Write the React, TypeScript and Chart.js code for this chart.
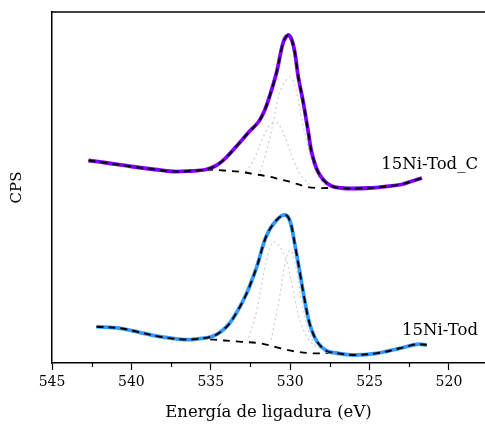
import React, { useEffect, useRef } from "react";
import { Chart, registerables } from "chart.js";

Chart.register(...registerables);

// O 1s region, binding energy (eV) vs counts, two samples stacked vertically.
// Each array holds [binding energy, CPS] pairs.

// 15Ni-Tod_C: measured spectrum and its fitted envelope
const topSpectrum: [number, number][] = [
  [542.7, 202.5], [541.5, 200], [540.0, 196.5], [538.5, 193.5], [537.4, 191.5],
  [536.3, 192], [535.3, 193.5], [534.6, 198], [534.0, 206], [533.2, 220],
  [532.6, 231], [532.0, 241], [531.6, 253], [531.27, 268], [530.85, 291],
  [530.43, 321], [530.12, 328], [529.9, 323], [529.7, 310], [529.5, 287],
  [529.17, 260], [528.85, 230], [528.65, 211], [528.3, 193], [527.9, 183],
  [527.4, 177], [526.8, 175], [526.0, 174.5], [525.0, 175], [524.0, 176.5],
  [523.0, 178.5], [522.3, 182], [521.7, 185],
];
const topBaseline: [number, number][] = [
  [535.3, 193.5], [534.2, 192.5], [533.2, 191.3], [532.3, 189], [531.3, 186.3],
  [530.6, 183.5], [530.0, 181.3], [529.0, 176.3], [528.3, 175], [527.1, 175.2],
];
const topComponentA: [number, number][] = [
  [531.9, 191], [531.5, 211], [531.06, 241], [530.6, 273], [530.0, 286],
  [529.6, 271], [529.2, 238], [528.55, 198], [528.0, 181], [527.6, 176],
];
const topComponentB: [number, number][] = [
  [532.8, 191], [532.3, 203], [531.7, 226], [531.2, 239], [530.8, 240],
  [530.3, 225], [529.8, 203], [529.3, 187], [528.8, 179],
];

// 15Ni-Tod: measured spectrum and its fitted envelope
const bottomSpectrum: [number, number][] = [
  [542.2, 36.3], [540.7, 34.7], [539.5, 30.7], [538.2, 26.3], [536.9, 23.7],
  [536.1, 23.7], [534.84, 27], [534.0, 36.3], [533.4, 49.7], [532.74, 69.7],
  [532.1, 96.3], [531.5, 127], [530.85, 143], [530.3, 148], [530.0, 141.3],
  [529.7, 118], [529.4, 91.3], [529.07, 61.3], [528.75, 38], [528.3, 21.3],
  [527.7, 12], [527.1, 10], [526.0, 8], [524.55, 9.7], [523.1, 14.7],
  [522.0, 18.7], [521.4, 18],
];
const bottomBaseline: [number, number][] = [
  [535.05, 23.7], [533.2, 21.3], [531.9, 19.7], [530.6, 14.7], [529.6, 11.3],
  [528.55, 9.7], [527.3, 10.3],
];
const bottomComponentA: [number, number][] = [
  [531.2, 23], [530.7, 63], [530.3, 101], [530.0, 113], [529.7, 101],
  [529.3, 63], [528.9, 35], [528.5, 20], [528.0, 13],
];
const bottomComponentB: [number, number][] = [
  [532.6, 25], [532.1, 53], [531.6, 95], [531.1, 121], [530.6, 115],
  [530.2, 101], [529.8, 71], [529.4, 43], [528.9, 25], [528.4, 16],
];

const sampleLabels = ["15Ni-Tod_C", "15Ni-Tod"];
const xTickValues = [545, 540, 535, 530, 525, 520];

const FONT = "'DejaVu Serif', 'Liberation Serif', serif";
const PURPLE = "#7f00ff";
const BLUE = "#3399ff";

const toPoints = (arr: [number, number][]) => arr.map(([x, y]) => ({ x, y }));

const spectrumSet = (arr: [number, number][], color: string) => ({
  data: toPoints(arr),
  borderColor: color,
  borderWidth: 3.8,
  pointRadius: 0,
  showLine: true,
  tension: 0.35,
  order: 1,
});
const fitSet = (arr: [number, number][]) => ({
  data: toPoints(arr),
  borderColor: "#000",
  borderWidth: 2,
  borderDash: [7, 5],
  pointRadius: 0,
  showLine: true,
  tension: 0.35,
  order: 0,
});
const baselineSet = (arr: [number, number][]) => ({
  data: toPoints(arr),
  borderColor: "#000",
  borderWidth: 1.8,
  borderDash: [7, 6],
  pointRadius: 0,
  showLine: true,
  tension: 0.35,
  order: 2,
});
const componentSet = (arr: [number, number][]) => ({
  data: toPoints(arr),
  borderColor: "#cfcfcf",
  borderWidth: 1.2,
  borderDash: [2, 3],
  pointRadius: 0,
  showLine: true,
  tension: 0.35,
  order: 3,
});

// top frame line, minor x ticks and sample names
const decorations = {
  id: "decorations",
  afterDraw(chart: any) {
    const { ctx, chartArea, scales } = chart;
    const x = scales.x;
    ctx.save();
    ctx.strokeStyle = "#000";
    ctx.lineWidth = 1.5;
    ctx.beginPath();
    ctx.moveTo(chartArea.left, chartArea.top);
    ctx.lineTo(chartArea.right, chartArea.top);
    ctx.stroke();

    ctx.lineWidth = 1.2;
    for (const t of x.ticks) {
      if (Math.abs(t.value % 5) > 1e-6) {
        const px = Math.round(x.getPixelForValue(t.value)) + 0.5;
        ctx.beginPath();
        ctx.moveTo(px, chartArea.bottom);
        ctx.lineTo(px, chartArea.bottom + 4);
        ctx.stroke();
      }
    }

    ctx.fillStyle = "#000";
    ctx.font = `16.5px ${FONT}`;
    ctx.textAlign = "right";
    ctx.textBaseline = "middle";
    ctx.fillText(sampleLabels[0], 478, 165);
    ctx.fillText(sampleLabels[1], 478, 331);
    ctx.restore();
  },
};

export default function App() {
  const ref = useRef<HTMLCanvasElement>(null);

  useEffect(() => {
    if (!ref.current) return;
    const chart = new Chart(ref.current, {
      type: "scatter",
      data: {
        datasets: [
          fitSet(topSpectrum),
          fitSet(bottomSpectrum),
          spectrumSet(topSpectrum, PURPLE),
          spectrumSet(bottomSpectrum, BLUE),
          baselineSet(topBaseline),
          baselineSet(bottomBaseline),
          componentSet(topComponentA),
          componentSet(topComponentB),
          componentSet(bottomComponentA),
          componentSet(bottomComponentB),
        ] as any,
      },
      options: {
        animation: false,
        responsive: false,
        maintainAspectRatio: false,
        layout: { padding: { top: 12, right: 0, left: 0, bottom: 0 } },
        plugins: {
          legend: { display: false },
          tooltip: { enabled: false },
        },
        scales: {
          x: {
            type: "linear",
            reverse: true,
            min: 517.73,
            max: 545,
            afterFit: (s: any) => {
              s.height = 61;
            },
            ticks: {
              stepSize: 2.5,
              includeBounds: false,
              autoSkip: false,
              maxRotation: 0,
              padding: 4,
              color: "#000",
              font: { family: FONT, size: 14 },
              callback: (v: any) => (xTickValues.includes(Number(v)) ? String(v) : ""),
            },
            grid: {
              drawOnChartArea: false,
              tickLength: 7,
              tickWidth: 1.2,
              tickColor: (c: any) =>
                c.tick && Math.abs(c.tick.value % 5) < 1e-6 ? "#000" : "rgba(0,0,0,0)",
            },
            border: { display: true, color: "#000", width: 1.5 },
            title: {
              display: true,
              text: "Energía de ligadura (eV)",
              color: "#000",
              font: { family: FONT, size: 16.5 },
              padding: { top: 0, bottom: 1 },
            },
          },
          y: {
            type: "linear",
            min: 0,
            max: 351,
            afterFit: (s: any) => {
              s.width = 52;
            },
            ticks: { display: false },
            grid: { display: false, drawTicks: false },
            border: { display: true, color: "#000", width: 1.5 },
            title: {
              display: true,
              text: "CPS",
              color: "#000",
              font: { family: FONT, size: 15 },
              padding: { top: 8, bottom: 0 },
            },
          },
        },
      },
      plugins: [decorations],
    });
    return () => chart.destroy();
  }, []);

  return (
    <div style={{ position: "fixed", left: 0, top: 0, width: 485, height: 424, background: "#fff" }}>
      <canvas ref={ref} width={485} height={424} style={{ display: "block" }} />
    </div>
  );
}
